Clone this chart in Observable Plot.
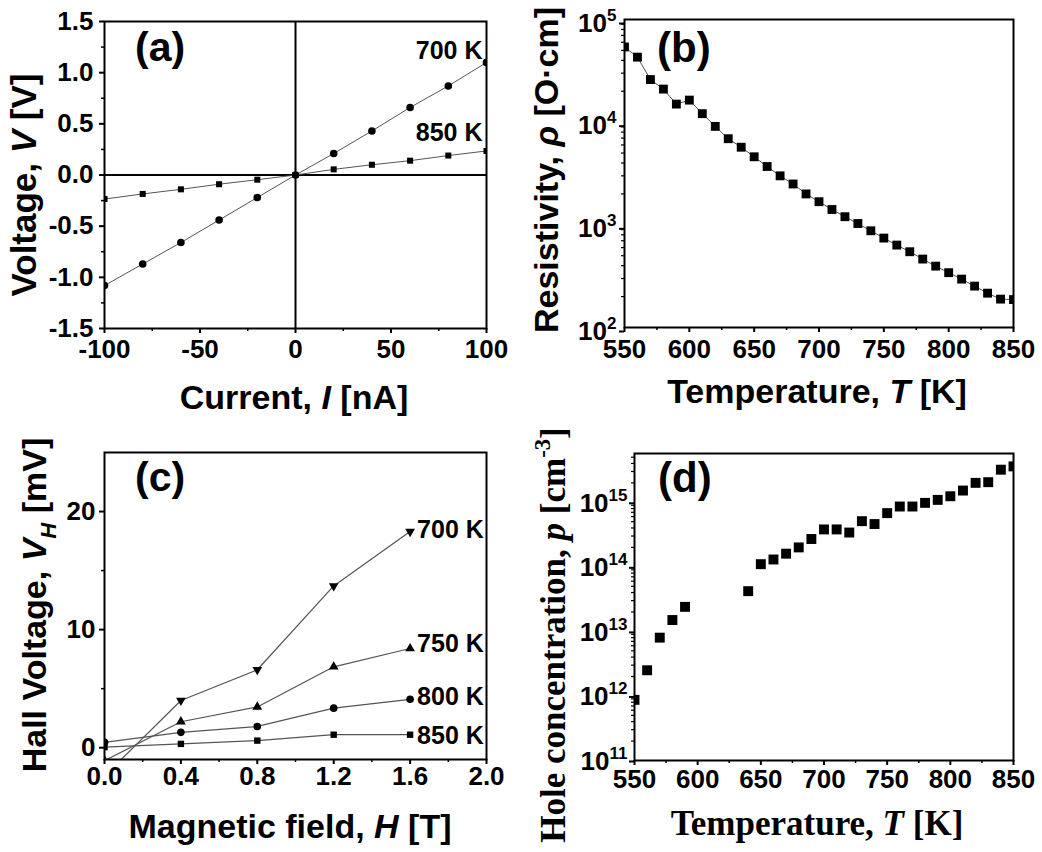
<!DOCTYPE html>
<html><head><meta charset="utf-8">
<script src="https://cdn.jsdelivr.net/npm/d3@7"></script>
<script src="https://cdn.jsdelivr.net/npm/@observablehq/plot@0.6"></script>
<style>
body{margin:0;background:#fff;}
#fig{position:relative;width:1042px;height:852px;overflow:hidden;background:#fff;}
.panel{position:absolute;}
</style></head><body><div id="fig"></div>
<script>
// ---------- Panel (a): I–V curves ----------
const currentA = [-100, -80, -60, -40, -20, 0, 20, 40, 60, 80, 100];
const volt700 = [-1.08, -0.87, -0.66, -0.44, -0.22, 0, 0.21, 0.43, 0.66, 0.87, 1.10];
const volt850 = [-0.235, -0.185, -0.14, -0.09, -0.046, 0, 0.055, 0.10, 0.14, 0.19, 0.235];
const labelsA = ["700 K", "850 K"];
const labelYA = [1.21, 0.41];
const ticksXA = [-100, -50, 0, 50, 100];
const minorXA = [-75, -25, 25, 75];
const ticksYA = [-1.5, -1.0, -0.5, 0.0, 0.5, 1.0, 1.5];
const minorYA = [-1.25, -0.75, -0.25, 0.25, 0.75, 1.25];

// ---------- Panel (b): resistivity ----------
const tempB = [550, 560, 570, 580, 590, 600, 610, 620, 630, 640, 650, 660, 670, 680, 690, 700,
               710, 720, 730, 740, 750, 760, 770, 780, 790, 800, 810, 820, 830, 840, 850];
const rhoB = [54000, 43000, 26000, 21000, 15000, 16400, 12100, 9100, 6900, 5700, 4600, 3700, 3000, 2500, 2000, 1680,
              1410, 1200, 1030, 875, 743, 635, 547, 464, 396, 342, 296, 253, 216, 189, 187];
const ticksT = [550, 600, 650, 700, 750, 800, 850];
const minorT = [575, 625, 675, 725, 775, 825];
const ticksYB = [1e2, 1e3, 1e4, 1e5];
const minorYB = [200,300,400,500,600,700,800,900,2000,3000,4000,5000,6000,7000,8000,9000,
                 20000,30000,40000,50000,60000,70000,80000,90000];

// ---------- Panel (c): Hall voltage ----------
const fieldC = [0, 0.4, 0.8, 1.2, 1.6];
const hall700 = [-2.4, 4.0, 6.6, 13.7, 18.3];
const hall750 = [-1.1, 2.2, 3.45, 6.85, 8.4];
const hall800 = [0.45, 1.3, 1.8, 3.35, 4.1];
const hall850 = [0.05, 0.32, 0.6, 1.1, 1.1];
const labelsC = ["700 K", "750 K", "800 K", "850 K"];
const labelYC = [18.4, 8.8, 4.3, 1.0];
const ticksXC = [0, 0.4, 0.8, 1.2, 1.6, 2.0];
const minorXC = [0.2, 0.6, 1.0, 1.4, 1.8];
const ticksYC = [0, 10, 20];
const minorYC = [5, 15];

// ---------- Panel (d): hole concentration ----------
const tempD = [550, 560, 570, 580, 590, 640, 650, 660, 670, 680, 690, 700, 710, 720, 730, 740,
               750, 760, 770, 780, 790, 800, 810, 820, 830, 840, 850];
const holeD = [8.7e11, 2.5e12, 8.0e12, 1.5e13, 2.4e13, 4.2e13, 1.1e14, 1.3e14, 1.6e14, 2.0e14, 2.7e14, 3.8e14, 3.8e14,
               3.4e14, 5.1e14, 4.6e14, 6.8e14, 8.6e14, 8.6e14, 9.8e14, 1.09e15, 1.24e15, 1.52e15, 2.0e15, 2.05e15, 3.2e15, 3.6e15];
const ticksYD = [1e11, 1e12, 1e13, 1e14, 1e15];
const minorYD = [2e11,3e11,4e11,5e11,6e11,7e11,8e11,9e11, 2e12,3e12,4e12,5e12,6e12,7e12,8e12,9e12,
                 2e13,3e13,4e13,5e13,6e13,7e13,8e13,9e13, 2e14,3e14,4e14,5e14,6e14,7e14,8e14,9e14, 2e15,3e15,4e15,5e15];

const SANS = "'Liberation Sans', Arial, Helvetica, sans-serif";
const SERIF = "'Liberation Serif', 'Times New Roman', serif";
const LINE = "#555";
const TICKFS = 26;
const baseStyle = {fontFamily: SANS, fontWeight: "bold", fontSize: TICKFS + "px", color: "black", background: "white", overflow: "visible"};

function place(svg, left, top) {
  const div = document.createElement("div");
  div.className = "panel";
  div.style.left = left + "px";
  div.style.top = top + "px";
  div.appendChild(svg);
  document.getElementById("fig").appendChild(div);
}

function addText(svg, o) {
  const t = d3.select(svg).append("text")
    .attr("transform", `translate(${o.x},${o.y})` + (o.rotate ? ` rotate(${o.rotate})` : ""))
    .attr("text-anchor", o.anchor || "middle")
    .attr("font-family", o.family || SANS)
    .attr("font-weight", "bold")
    .attr("font-size", o.size)
    .attr("fill", "black");
  let shift = 0;
  for (const p of o.parts) {
    const [s, kind] = typeof p === "string" ? [p, ""] : p;
    const ts = t.append("tspan").text(s);
    let target = 0;
    if (kind.includes("sub")) target = o.size * 0.28;
    if (kind.includes("sup")) target = -o.size * 0.42;
    if (kind.includes("sub") || kind.includes("sup")) ts.attr("font-size", o.size * 0.65);
    if (kind.includes("i")) ts.attr("font-style", "italic");
    if (target !== shift) { ts.attr("dy", target - shift); shift = target; }
  }
}

function supTicks(svg) {
  d3.select(svg).selectAll('g[aria-label="y-axis tick label"] text').each(function () {
    const s = this.textContent;
    if (!s.includes("^")) return;
    const [b, e] = s.split("^");
    const sel = d3.select(this);
    sel.text(null);
    sel.append("tspan").text(b);
    sel.append("tspan").attr("dy", -11).attr("font-size", 17).text(e);
  });
}

const fmt1 = d => d.toFixed(1);
const fmtInt = d => String(d);
const fmtPow = d => "10^" + Math.round(Math.log10(d));

// ---------------- (a) ----------------
{
  const svg = Plot.plot({
    width: 520, height: 420,
    marginLeft: 104, marginRight: 34, marginTop: 21, marginBottom: 92,
    style: baseStyle,
    x: {domain: [-100, 100]},
    y: {domain: [-1.5, 1.5]},
    marks: [
      Plot.ruleX([0], {stroke: "black", strokeWidth: 2}),
      Plot.ruleY([0], {stroke: "black", strokeWidth: 2}),
      Plot.line(volt700, {x: currentA, y: volt700, stroke: LINE, strokeWidth: 1, clip: true}),
      Plot.line(volt850, {x: currentA, y: volt850, stroke: LINE, strokeWidth: 1, clip: true}),
      Plot.dot(volt700, {x: currentA, y: volt700, symbol: "circle", r: 3.8, fill: "black", clip: true}),
      Plot.dot(volt850, {x: currentA, y: volt850, symbol: "square", r: 3.4, fill: "black", clip: true}),
      Plot.text(labelsA, {x: [100, 100], y: labelYA, text: d => d, textAnchor: "end", dx: -4, fontSize: 25}),
      Plot.axisX({ticks: ticksXA, tickFormat: fmtInt, tickSize: 5, tickPadding: 6, strokeWidth: 2, label: null}),
      Plot.axisX({ticks: minorXA, tickSize: 3, strokeWidth: 1.5, fill: "none", label: null}),
      Plot.axisY({ticks: ticksYA, tickFormat: fmt1, tickSize: 5, tickPadding: 6, strokeWidth: 2, label: null}),
      Plot.axisY({ticks: minorYA, tickSize: 3, strokeWidth: 1.5, fill: "none", label: null}),
      Plot.frame({stroke: "black", strokeWidth: 2})
    ]
  });
  addText(svg, {x: 294, y: 409, size: 34, parts: ["Current, ", ["I", "i"], " [nA]"]});
  addText(svg, {x: 36, y: 185, rotate: -90, size: 35, parts: ["Voltage, ", ["V", "i"], " [V]"]});
  addText(svg, {x: 135, y: 61, size: 41, anchor: "start", parts: ["(a)"]});
  place(svg, 0, 0);
}

// ---------------- (b) ----------------
{
  const svg = Plot.plot({
    width: 522, height: 420,
    marginLeft: 104, marginRight: 29, marginTop: 19, marginBottom: 93,
    style: baseStyle,
    x: {domain: [550, 850]},
    y: {type: "log", domain: [1e2, 1e5]},
    marks: [
      Plot.line(rhoB, {x: tempB, y: rhoB, stroke: LINE, strokeWidth: 1, clip: true}),
      Plot.dot(rhoB, {x: tempB, y: rhoB, symbol: "square", r: 5, fill: "black", clip: true}),
      Plot.axisX({ticks: ticksT, tickFormat: fmtInt, tickSize: 5, tickPadding: 7, strokeWidth: 2, label: null}),
      Plot.axisX({ticks: minorT, tickSize: 3, strokeWidth: 1.5, fill: "none", label: null}),
      Plot.axisY({ticks: ticksYB, tickFormat: fmtPow, tickSize: 5, tickPadding: 3, strokeWidth: 2, dy: 4, label: null}),
      Plot.axisY({ticks: minorYB, tickSize: 3, strokeWidth: 1.2, fill: "none", label: null}),
      Plot.frame({stroke: "black", strokeWidth: 2})
    ]
  });
  supTicks(svg);
  addText(svg, {x: 297, y: 403, size: 34, parts: ["Temperature, ", ["T", "i"], " [K]"]});
  addText(svg, {x: 38, y: 170, rotate: -90, size: 34, parts: ["Resistivity, ", ["ρ", "i"], " [O·cm]"]});
  addText(svg, {x: 137, y: 62, size: 42, anchor: "start", parts: ["(b)"]});
  place(svg, 520, 0);
}

// ---------------- (c) ----------------
{
  const series = [
    {v: hall700, symbol: "triangle", rotate: 180},
    {v: hall750, symbol: "triangle", rotate: 0},
    {v: hall800, symbol: "circle", rotate: 0},
    {v: hall850, symbol: "square", rotate: 0}
  ];
  const marks = [];
  for (const s of series) {
    marks.push(Plot.line(s.v, {x: fieldC, y: s.v, stroke: LINE, strokeWidth: 1.2, clip: true}));
  }
  for (const s of series) {
    marks.push(Plot.dot(s.v, {x: fieldC, y: s.v, symbol: s.symbol, rotate: s.rotate, r: s.symbol === "circle" ? 3.8 : 3.6, fill: "black", clip: true}));
  }
  const svg = Plot.plot({
    width: 520, height: 432,
    marginLeft: 104, marginRight: 34, marginTop: 32, marginBottom: 93,
    style: baseStyle,
    x: {domain: [0, 2.0]},
    y: {domain: [-1, 25]},
    marks: [
      ...marks,
      Plot.text(labelsC, {x: [1.6, 1.6, 1.6, 1.6], y: labelYC, text: d => d, textAnchor: "start", dx: 7, fontSize: 25}),
      Plot.axisX({ticks: ticksXC, tickFormat: fmt1, tickSize: 5, tickPadding: 2, strokeWidth: 2, label: null}),
      Plot.axisX({ticks: minorXC, tickSize: 3, strokeWidth: 1.5, fill: "none", label: null}),
      Plot.axisY({ticks: ticksYC, tickFormat: fmtInt, tickSize: 5, tickPadding: 4, strokeWidth: 2, label: null}),
      Plot.axisY({ticks: minorYC, tickSize: 3, strokeWidth: 1.5, fill: "none", label: null}),
      Plot.frame({stroke: "black", strokeWidth: 2})
    ]
  });
  addText(svg, {x: 290, y: 418, size: 34, parts: ["Magnetic field, ", ["H", "i"], " [T]"]});
  addText(svg, {x: 46, y: 185, rotate: -90, size: 34, parts: ["Hall Voltage, ", ["V", "i"], ["H", "isub"], " [mV]"]});
  addText(svg, {x: 135, y: 71, size: 41, anchor: "start", parts: ["(c)"]});
  place(svg, 0, 420);
}

// ---------------- (d) ----------------
{
  const svg = Plot.plot({
    width: 522, height: 432,
    marginLeft: 114, marginRight: 29, marginTop: 33, marginBottom: 92,
    style: baseStyle,
    x: {domain: [550, 850]},
    y: {type: "log", domain: [1e11, 5.7e15]},
    marks: [
      Plot.dot(holeD, {x: tempD, y: holeD, symbol: "square", r: 5.6, fill: "black", clip: true}),
      Plot.axisX({ticks: ticksT, tickFormat: fmtInt, tickSize: 5, tickPadding: 4, strokeWidth: 2, label: null}),
      Plot.axisX({ticks: minorT, tickSize: 3, strokeWidth: 1.5, fill: "none", label: null}),
      Plot.axisY({ticks: ticksYD, tickFormat: fmtPow, tickSize: 5, tickPadding: 2, strokeWidth: 2, dy: 1, label: null}),
      Plot.axisY({ticks: minorYD, tickSize: 3, strokeWidth: 1.2, fill: "none", label: null}),
      Plot.frame({stroke: "black", strokeWidth: 2})
    ]
  });
  supTicks(svg);
  addText(svg, {x: 297, y: 415, size: 35, family: SERIF, parts: ["Temperature, ", ["T", "i"], " [K]"]});
  addText(svg, {x: 45, y: 215, rotate: -90, size: 35, family: SERIF, parts: ["Hole concentration, ", ["p", "i"], " [cm", ["-3", "sup"], "]"]});
  addText(svg, {x: 138, y: 72, size: 42, anchor: "start", parts: ["(d)"]});
  place(svg, 520, 420);
}
</script></body></html>
